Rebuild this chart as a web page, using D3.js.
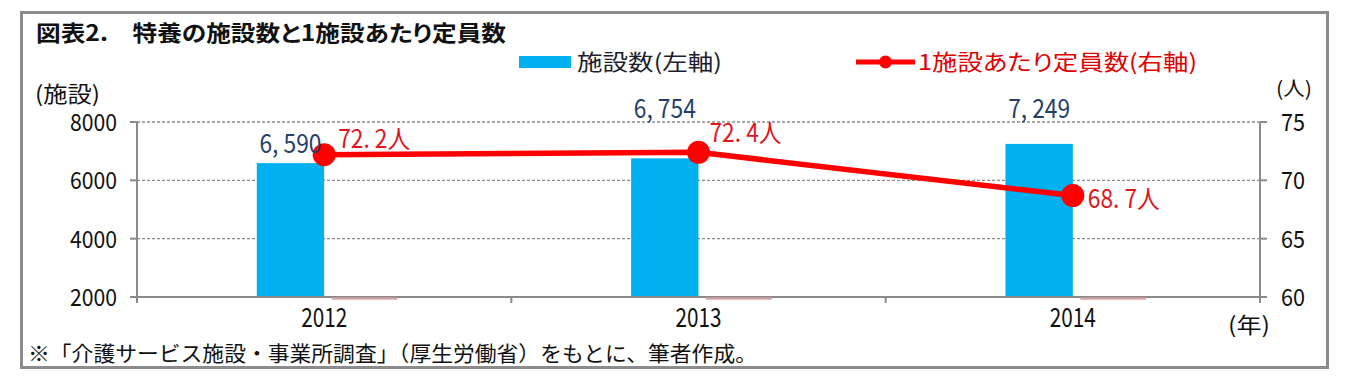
<!DOCTYPE html>
<html><head><meta charset="utf-8">
<script src="https://cdn.jsdelivr.net/npm/d3@7"></script>
<style>
html,body{margin:0;padding:0;background:#fff;}
text{font-family:"Noto Sans CJK JP","Noto Sans",sans-serif;font-feature-settings:"palt";}
text.nopalt{font-feature-settings:normal;}
</style></head>
<body><svg id="c" width="1349" height="381"></svg>
<script>
const years = ["2012","2013","2014"];
const facilities = [6590, 6754, 7249];
const capacity = [72.2, 72.4, 68.7];
const leftTicks = [2000, 4000, 6000, 8000];
const rightTicks = [60, 65, 70, 75];
const title = "図表2.\u3000特養の施設数と1施設あたり定員数";
const legendBar = "施設数(左軸)";
const legendLine = "1施設あたり定員数(右軸)";
const leftUnit = "(施設)", rightUnit = "(人)", xUnit = "(年)";
const footnote = "※「介護サービス施設・事業所調査」（厚生労働省）をもとに、筆者作成。";

// layout (not data)
const barLabelDy = [-10, -40, -26];
const lineLabelDx = [14, 11, 15];
const lineLabelDy = [-7, -10, 12];

const svg = d3.select("#c");
const L = 137, R = 1260, T = 122, B = 297;
const x = d3.scaleBand().domain(years).range([L, R]).padding(0);
const yL = d3.scaleLinear().domain([2000, 8000]).range([B, T]);
const yR = d3.scaleLinear().domain([60, 75]).range([B, T]);
const bw = x.bandwidth();
const cx = d => x(d) + bw / 2;
const axisCol = "#8a8a8a";

// outer frame
svg.append("rect").attr("x", 21.5).attr("y", 12.5).attr("width", 1306).attr("height", 355)
  .attr("fill", "none").attr("stroke", "#8c8c8c").attr("stroke-width", 3);

// title
svg.append("text").attr("x", 36).attr("y", 41).attr("font-size", 22).attr("font-weight", "bold")
  .attr("fill", "#111").attr("textLength", 470).attr("lengthAdjust", "spacingAndGlyphs").text(title);

// legend
svg.append("rect").attr("x", 519).attr("y", 56).attr("width", 52).attr("height", 12).attr("fill", "#00B0F0");
svg.append("text").attr("x", 577).attr("y", 70).attr("font-size", 22).attr("fill", "#1e1e2e")
  .attr("textLength", 145).attr("lengthAdjust", "spacingAndGlyphs").text(legendBar);
svg.append("line").attr("x1", 856).attr("x2", 915).attr("y1", 62).attr("y2", 62)
  .attr("stroke", "#FF0000").attr("stroke-width", 5);
svg.append("circle").attr("cx", 885.5).attr("cy", 62).attr("r", 6.5).attr("fill", "#FF0000");
svg.append("text").attr("x", 918).attr("y", 70).attr("font-size", 22).attr("fill", "#E00000")
  .attr("textLength", 279).attr("lengthAdjust", "spacingAndGlyphs").text(legendLine);

// units
svg.append("text").attr("x", 35).attr("y", 102).attr("font-size", 22).attr("fill", "#111")
  .attr("textLength", 65).attr("lengthAdjust", "spacingAndGlyphs").text(leftUnit);
svg.append("text").attr("x", 1276).attr("y", 96).attr("font-size", 20).attr("fill", "#111")
  .attr("textLength", 36).attr("lengthAdjust", "spacingAndGlyphs").text(rightUnit);
svg.append("text").attr("x", 1228).attr("y", 333).attr("font-size", 22).attr("fill", "#111")
  .attr("textLength", 42).attr("lengthAdjust", "spacingAndGlyphs").text(xUnit);

// gridlines
svg.append("g").selectAll("line").data(leftTicks.filter(v => v > 2000)).join("line")
  .attr("x1", L).attr("x2", R).attr("y1", d => yL(d)).attr("y2", d => yL(d))
  .attr("stroke", "#8a8a8a").attr("stroke-width", 1.3).attr("stroke-dasharray", "3,2");

// bars
svg.append("g").selectAll("rect").data(years).join("rect")
  .attr("x", d => cx(d) - bw * 0.18).attr("width", bw * 0.18)
  .attr("y", (d, i) => yL(facilities[i])).attr("height", (d, i) => yL(2000) - yL(facilities[i]))
  .attr("fill", "#00B0F0");

// axes lines
const ax = svg.append("g").attr("stroke", axisCol).attr("stroke-width", 2);
ax.append("line").attr("x1", L).attr("x2", L).attr("y1", T).attr("y2", B + 6);
ax.append("line").attr("x1", R).attr("x2", R).attr("y1", T).attr("y2", B + 6);
ax.append("line").attr("x1", L).attr("x2", R).attr("y1", B).attr("y2", B);
ax.selectAll(".lt").data(leftTicks).join("line").attr("x1", L - 7).attr("x2", L)
  .attr("y1", d => yL(d)).attr("y2", d => yL(d));
ax.selectAll(".rt").data(rightTicks).join("line").attr("x1", R).attr("x2", R + 7)
  .attr("y1", d => yR(d)).attr("y2", d => yR(d));
ax.selectAll(".bt").data(years.slice(1)).join("line").attr("x1", d => x(d)).attr("x2", d => x(d))
  .attr("y1", B).attr("y2", B + 6);

// pink zero-height series
svg.append("g").selectAll("rect").data(years).join("rect")
  .attr("x", d => cx(d) + bw * 0.02).attr("width", bw * 0.176)
  .attr("y", B + 0.5).attr("height", 2.2).attr("fill", "#d9a3a3");

// tick labels
svg.append("g").selectAll("text").data(leftTicks).join("text")
  .attr("x", 117).attr("y", d => yL(d) + 9).attr("text-anchor", "end")
  .attr("font-size", 24).attr("fill", "#111")
  .attr("textLength", 47).attr("lengthAdjust", "spacingAndGlyphs").text(d => d);
svg.append("g").selectAll("text").data(rightTicks).join("text")
  .attr("x", 1281).attr("y", d => yR(d) + 9)
  .attr("font-size", 24).attr("fill", "#111")
  .attr("textLength", 24).attr("lengthAdjust", "spacingAndGlyphs").text(d => d);
svg.append("g").selectAll("text").data(years).join("text")
  .attr("x", d => cx(d) - 23).attr("y", 327)
  .attr("font-size", 26).attr("fill", "#111")
  .attr("textLength", 46).attr("lengthAdjust", "spacingAndGlyphs").text(d => d);

// line
const pts = years.map((d, i) => [cx(d), yR(capacity[i])]);
svg.append("path").attr("d", d3.line()(pts)).attr("fill", "none")
  .attr("stroke", "#FF0000").attr("stroke-width", 5.5);
svg.append("g").selectAll("circle").data(pts).join("circle")
  .attr("cx", d => d[0]).attr("cy", d => d[1]).attr("r", 11.5).attr("fill", "#FF0000");

// bar labels
const fmt = v => d3.format(",")(v).replace(",", ", ");
svg.append("g").selectAll("text").data(years).join("text")
  .attr("x", d => cx(d) - bw * 0.09).attr("y", (d, i) => yL(facilities[i]) + barLabelDy[i])
  .attr("text-anchor", "middle").attr("font-size", 26).attr("fill", "#263F6A")
  .attr("textLength", 62).attr("lengthAdjust", "spacingAndGlyphs")
  .text((d, i) => fmt(facilities[i]));

// line labels
svg.append("g").selectAll("text").data(pts).join("text")
  .attr("x", (d, i) => d[0] + lineLabelDx[i]).attr("y", (d, i) => d[1] + lineLabelDy[i])
  .attr("font-size", 25).attr("fill", "#E0141E")
  .attr("textLength", 72).attr("lengthAdjust", "spacingAndGlyphs")
  .text((d, i) => capacity[i].toFixed(1).replace(".", ". ") + "人");

// footnote
svg.append("text").attr("class", "nopalt").attr("x", 28).attr("y", 361).attr("font-size", 21).attr("fill", "#111")
  .attr("textLength", 729).attr("lengthAdjust", "spacingAndGlyphs").text(footnote);
</script></body></html>
